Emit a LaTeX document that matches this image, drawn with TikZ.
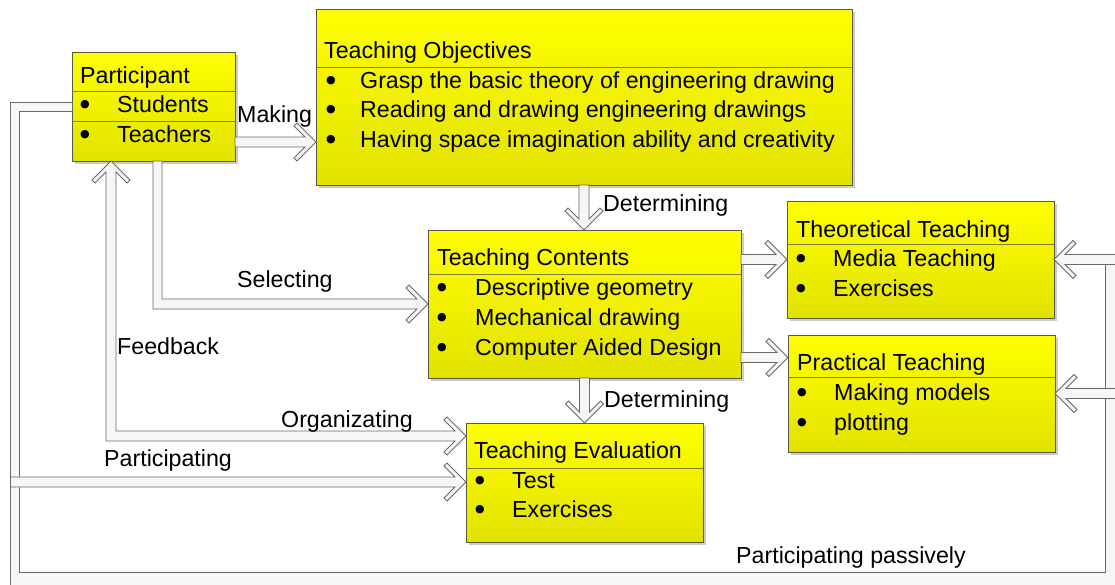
\documentclass[tikz,border=0pt]{standalone}
\usepackage{fontspec}
\setmainfont{Liberation Sans}
\newfontfamily\bulfont{DejaVu Sans}
\usetikzlibrary{calc,shadows}
\definecolor{ylw}{RGB}{255,255,0}
\definecolor{ylwd}{RGB}{226,226,0}
\definecolor{bord}{RGB}{90,90,66}
\definecolor{divc}{RGB}{125,125,60}
\definecolor{arrl}{RGB}{105,105,105}
\definecolor{arrf}{RGB}{246,246,246}
\tikzset{
  box/.style={draw=bord, line width=1pt, top color=ylw, bottom color=ylwd,
    anchor=north west, inner sep=0pt, outer sep=0pt,
    drop shadow={shadow xshift=3pt, shadow yshift=-3pt, fill=black!20, opacity=1}},
  txt/.style={anchor=base west, inner sep=0pt, font=\fontsize{23.2}{27}\selectfont},
  bul/.style={anchor=center, inner sep=0pt, font=\bulfont\fontsize{11}{12}\selectfont},
  lbl/.style={txt},
  divline/.style={draw=divc, line width=0.8pt},
  harr/.style={draw=arrl, fill=arrf, line width=0.9pt, line join=miter},
}
% hollow block arrow: #1 start, #2 tip, #3 direction angle
\newcommand\hollowarrow[3]{%
  \path let \p1=(#1), \p2=(#2) in
    \pgfextra{\pgfmathsetmacro\hlen{veclen(\x2-\x1,\y2-\y1)}\global\let\harrlen\hlen};
  \begin{scope}[shift={(#2)}, rotate=#3]
    \filldraw[harr] (0,0) -- (-19,19) -- (-22,16) -- (-11,5) -- (-\harrlen,5)
      -- (-\harrlen,-5) -- (-11,-5) -- (-22,-16) -- (-19,-19) -- cycle;
  \end{scope}}
\begin{document}
\begin{tikzpicture}[x=1pt, y=-1pt]
\useasboundingbox (0,0) rectangle (1115,584);
\fill[white] (0,0) rectangle (1115,584);
\clip (0,0) rectangle (1115,584);

% ---------- boxes ----------
\node[box, minimum width=163pt, minimum height=109pt] (part) at (72,52) {};
\node[box, minimum width=536pt, minimum height=176pt] (obj)  at (316,9) {};
\node[box, minimum width=313pt, minimum height=148pt] (tc)   at (428,230) {};
\node[box, minimum width=267pt, minimum height=117pt] (theo) at (787,201) {};
\node[box, minimum width=267pt, minimum height=117pt] (prac) at (788,335) {};
\node[box, minimum width=237pt, minimum height=119pt] (te)   at (466,423) {};

% dividers
\draw[divline] (part.west |- 0,91) -- (part.east |- 0,91);
\draw[divline] (part.west |- 0,121) -- (part.east |- 0,121);
\draw[divline] (obj.west |- 0,67) -- (obj.east |- 0,67);
\draw[divline] (tc.west |- 0,274) -- (tc.east |- 0,274);
\draw[divline] (theo.west |- 0,244) -- (theo.east |- 0,244);
\draw[divline] (prac.west |- 0,377) -- (prac.east |- 0,377);
\draw[divline] (te.west |- 0,468) -- (te.east |- 0,468);

% ---------- big loop (Participating passively) ----------
\fill[arrf] (part.west |- 0,102) -- (10.5,102) -- (10.5,600) -- (1125,600) -- (1125,264)
  -- (1105.5,264) -- (1105.5,572) -- (19,572) -- (19,111) -- (part.west |- 0,111) -- cycle;
\draw[arrl, line width=0.9pt] (part.west |- 0,102) -- (10.5,102) -- (10.5,600);
\draw[arrl, line width=0.9pt] (part.west |- 0,111) -- (19,111) -- (19,572) -- (1105.5,572) -- (1105.5,264);

% ---------- L-shaped arrows ----------
% Selecting
\filldraw[harr] (part.south -| 153,0) -- (153,309) -- (417,309) -- (406,320) -- (409,323)
  -- (tc.west |- 0,304) -- (409,285) -- (406,288) -- (417,299) -- (162,299) -- (part.south -| 162,0) -- cycle;
% Feedback / Organizating
\filldraw[harr] (part.south -| 111,0) -- (130,180) -- (127,183) -- (116,172) -- (116,431) -- (455,431)
  -- (444,420) -- (447,417) -- (te.west |- 0,436) -- (447,455) -- (444,452) -- (455,441)
  -- (106,441) -- (106,172) -- (95,183) -- (92,180) -- cycle;

% ---------- straight arrows ----------
\hollowarrow{part.east |- 0,142}{obj.west |- 0,142}{0}
\hollowarrow{obj.south}{obj.south |- tc.north}{-90}
\hollowarrow{tc.east |- 0,259.5}{theo.west |- 0,259.5}{0}
\hollowarrow{tc.east |- 0,357.5}{prac.west |- 0,357.5}{0}
\hollowarrow{tc.south}{tc.south |- te.north}{-90}
\hollowarrow{1125,259.5}{theo.east |- 0,259.5}{180}
\hollowarrow{1125,393.5}{prac.east |- 0,393.5}{180}
\hollowarrow{10.5,482}{te.west |- 0,482}{0}

% ---------- texts ----------
\node[txt] (part-t) at (80,83) {Participant};
\node[bul] (part-b1) at (85,105) {●};
\node[txt] (part-1) at (117,112) {Students};
\node[bul] (part-b2) at (85,134.5) {●};
\node[txt] (part-2) at (117,142) {Teachers};

\node[txt] (obj-t) at (324,58) {Teaching Objectives};
\node[bul] (obj-b1) at (331,81) {●};
\node[txt] (obj-1) at (360,88) {Grasp the basic theory of engineering drawing};
\node[bul] (obj-b2) at (331,110) {●};
\node[txt] (obj-2) at (360,117) {Reading and drawing engineering drawings};
\node[bul] (obj-b3) at (331,140) {●};
\node[txt] (obj-3) at (360,147) {Having space imagination ability and creativity};

\node[txt] (tc-t) at (437,265) {Teaching Contents};
\node[bul] (tc-b1) at (442,288) {●};
\node[txt] (tc-1) at (475,295) {Descriptive geometry};
\node[bul] (tc-b2) at (442,318) {●};
\node[txt] (tc-2) at (475,325) {Mechanical drawing};
\node[bul] (tc-b3) at (442,348) {●};
\node[txt] (tc-3) at (475,355) {Computer Aided Design};

\node[txt] (theo-t) at (796,237) {Theoretical Teaching};
\node[bul] (theo-b1) at (801,259) {●};
\node[txt] (theo-1) at (833,266) {Media Teaching};
\node[bul] (theo-b2) at (801,289) {●};
\node[txt] (theo-2) at (833,296) {Exercises};

\node[txt] (prac-t) at (797,370) {Practical Teaching};
\node[bul] (prac-b1) at (802,393) {●};
\node[txt] (prac-1) at (834,400) {Making models};
\node[bul] (prac-b2) at (802,423) {●};
\node[txt] (prac-2) at (834,430) {plotting};

\node[txt] (te-t) at (474,458) {Teaching Evaluation};
\node[bul] (te-b1) at (480,481) {●};
\node[txt] (te-1) at (512,488) {Test};
\node[bul] (te-b2) at (480,510) {●};
\node[txt] (te-2) at (512,517) {Exercises};

% connector labels
\node[lbl] (l-make) at (237,122) {Making};
\node[lbl] (l-det1) at (603,211) {Determining};
\node[lbl] (l-det2) at (604,407) {Determining};
\node[lbl] (l-sel) at (237,287) {Selecting};
\node[lbl] (l-fb) at (117,354) {Feedback};
\node[lbl] (l-org) at (281,427) {Organizating};
\node[lbl] (l-part) at (104,466) {Participating};
\node[lbl] (l-pass) at (736,563) {Participating passively};
\end{tikzpicture}
\end{document}
